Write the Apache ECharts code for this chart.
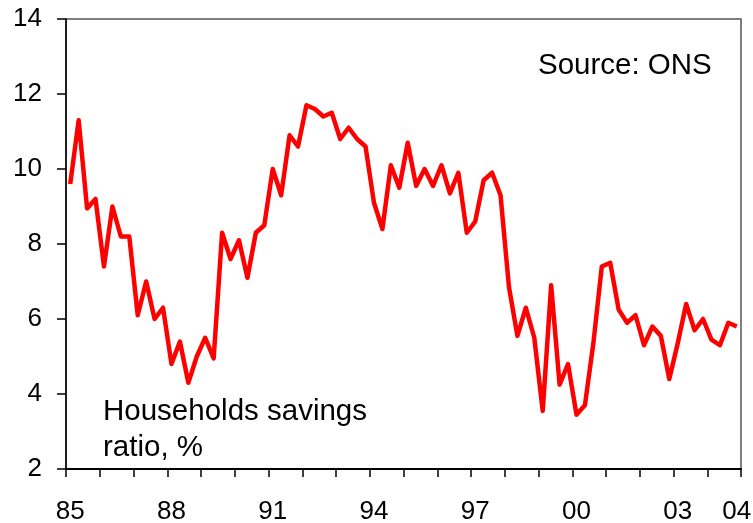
<!DOCTYPE html>
<html>
<head>
<meta charset="utf-8">
<script src="https://cdn.jsdelivr.net/npm/echarts@6/dist/echarts.min.js"></script>
<style>
  html, body { margin: 0; padding: 0; background: #fff; }
  #chart { width: 753px; height: 523px; }
</style>
</head>
<body>
<div id="chart"></div>
<script>
// quarterly, 1985 Q1 .. 2004 Q4
var years = [1985, 1986, 1987, 1988, 1989, 1990, 1991, 1992, 1993, 1994,
             1995, 1996, 1997, 1998, 1999, 2000, 2001, 2002, 2003, 2004];
var quarters = ['Q1', 'Q2', 'Q3', 'Q4'];
var shownYears = ['85', '88', '91', '94', '97', '00', '03'];
var lastLabel = '04';

var savingsRatio = [
  9.6, 11.3, 8.95, 9.2,    // 85
  7.4, 9.0, 8.2, 8.2,      // 86
  6.1, 7.0, 6.0, 6.3,      // 87
  4.8, 5.4, 4.3, 5.0,      // 88
  5.5, 4.95, 8.3, 7.6,     // 89
  8.1, 7.1, 8.3, 8.5,      // 90
  10.0, 9.3, 10.9, 10.6,   // 91
  11.7, 11.6, 11.4, 11.5,  // 92
  10.8, 11.1, 10.8, 10.6,  // 93
  9.1, 8.4, 10.1, 9.5,     // 94
  10.7, 9.55, 10.0, 9.55,  // 95
  10.1, 9.35, 9.9, 8.3,    // 96
  8.6, 9.7, 9.9, 9.3,      // 97
  6.85, 5.55, 6.3, 5.5,    // 98
  3.55, 6.9, 4.25, 4.8,    // 99
  3.45, 3.7, 5.35, 7.4,    // 00
  7.5, 6.25, 5.9, 6.1,     // 01
  5.3, 5.8, 5.55, 4.4,     // 02
  5.35, 6.4, 5.7, 6.0,     // 03
  5.45, 5.3, 5.9, 5.8      // 04
];

var categories = [];
years.forEach(function (y) {
  quarters.forEach(function (q) { categories.push(y + ' ' + q); });
});

var FONT = '"Liberation Sans", Arial, sans-serif';

var myChart = echarts.init(document.getElementById('chart'));
var option = {
  backgroundColor: '#fff',
  animation: false,
  grid: {
    left: 66, right: 12, top: 19, bottom: 54,
    outerBoundsMode: 'none',
    show: true, borderColor: '#555', borderWidth: 1.5, backgroundColor: 'transparent'
  },
  xAxis: {
    type: 'category',
    data: categories,
    boundaryGap: true,
    axisLine: { lineStyle: { color: '#000', width: 2 } },
    axisTick: {
      show: true,
      interval: function (i) { return i % 4 === 0; },
      length: 8,
      lineStyle: { color: '#000', width: 1.5 }
    },
    axisLabel: {
      interval: function (i) {
        return (i % 12 === 0 && i <= 72) || i === categories.length - 1;
      },
      formatter: function (val, i) {
        if (i === categories.length - 1) return lastLabel;
        return shownYears[i / 12];
      },
      margin: 30,
      color: '#000',
      fontSize: 26,
      fontFamily: FONT
    },
    splitLine: { show: false }
  },
  yAxis: {
    type: 'value',
    min: 2, max: 14, interval: 2,
    axisLine: { show: true, lineStyle: { color: '#000', width: 1.5 } },
    axisTick: { show: true, length: 9, lineStyle: { color: '#000', width: 1.5 } },
    axisLabel: { margin: 24, color: '#000', fontSize: 26, fontFamily: FONT },
    splitLine: { show: false }
  },
  series: [{
    type: 'line',
    data: savingsRatio,
    showSymbol: false,
    lineStyle: { color: '#ff0000', width: 4.5, join: 'round' },
    itemStyle: { color: '#ff0000' }
  }],
  graphic: [
    { type: 'text', left: 538, top: 51,
      style: { text: 'Source: ONS', font: '29.5px ' + FONT, fill: '#000' } },
    { type: 'text', left: 103, top: 397,
      style: { text: 'Households savings', font: '29.5px ' + FONT, fill: '#000' } },
    { type: 'text', left: 103, top: 433,
      style: { text: 'ratio, %', font: '29.5px ' + FONT, fill: '#000' } }
  ]
};
myChart.setOption(option);
</script>
</body>
</html>
